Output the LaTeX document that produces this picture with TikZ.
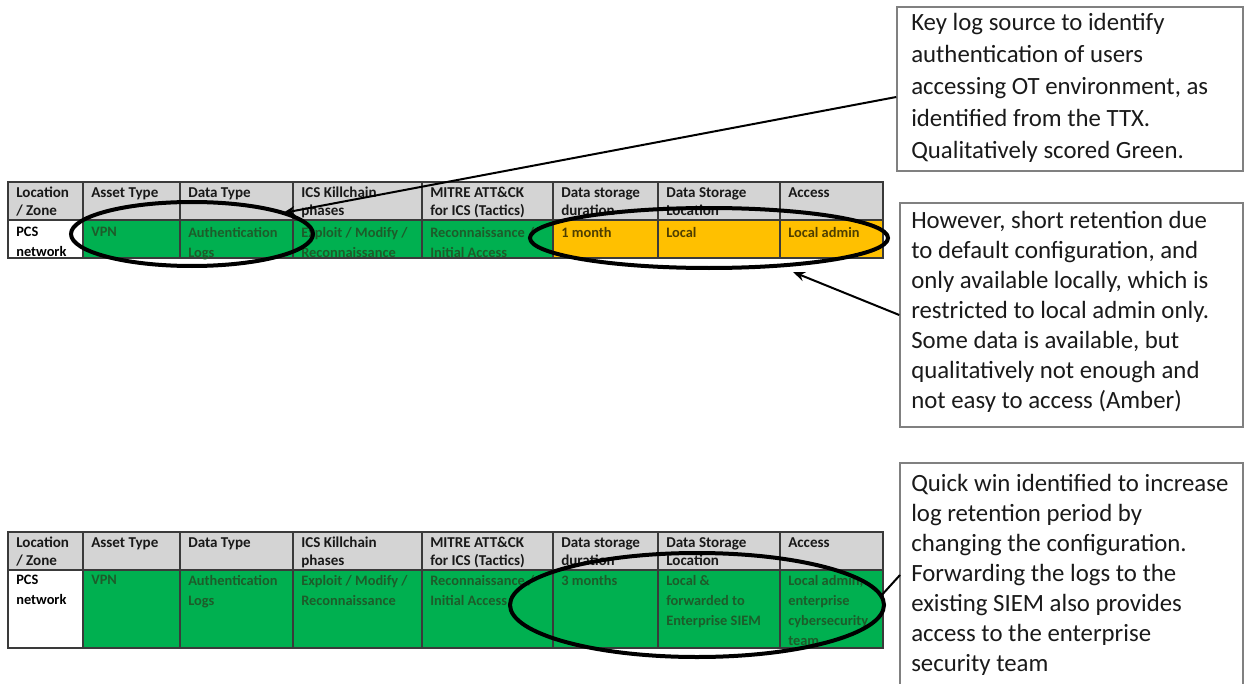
\documentclass[tikz,border=0pt]{standalone}
\usepackage{fontspec}
\setmainfont{Carlito}
\usetikzlibrary{shapes.geometric,arrows.meta}
\definecolor{hdrgray}{HTML}{D4D4D4}
\definecolor{okgreen}{HTML}{00B050}
\definecolor{amber}{HTML}{FFC000}
\definecolor{gtext}{HTML}{1D5C2A}
\definecolor{atext}{HTML}{4E3E00}
\definecolor{gridc}{HTML}{3A3A3A}
\definecolor{boxgray}{HTML}{808080}
\definecolor{calltext}{HTML}{1A1A1A}
\tikzset{
  gridline/.style={draw=gridc, line width=1.1pt},
  hdrtext/.style={anchor=north west, inner sep=0pt, align=left, text=black!90,
    font=\fontsize{11.3}{13.5}\selectfont\bfseries},
  datatext/.style={anchor=north west, inner sep=0pt, align=left,
    font=\fontsize{10.8}{15}\selectfont\bfseries},
  callout/.style={draw=boxgray, line width=1.1pt, rectangle, inner sep=0pt, fill=white},
  calltxt/.style={anchor=north west, inner sep=0pt, align=left, text=calltext},
  ring/.style={ellipse, draw=black, line width=3pt, inner sep=0pt},
  pointer/.style={draw=black, line width=1.5pt, -{Stealth[length=9pt,width=7pt]}},
  plainline/.style={draw=black, line width=1.5pt},
}
\begin{document}
\begin{tikzpicture}[x=0.75pt,y=-0.75pt]
\useasboundingbox (0,0) rectangle (1244,684);
\fill[white] (0,0) rectangle (1244,684);

% ---------- top table ----------
\fill[hdrgray] (8,182) rectangle (883,220);
\fill[white] (8,220) rectangle (83,258);
\fill[okgreen] (83,220) rectangle (553,258);
\fill[amber] (553,220) rectangle (883,258);
\draw[gridline] (8,182) rectangle (883,258);
\draw[gridline] (8,220) -- (883,220);
\foreach \cx in {83,180,293,422,553,658,780} \draw[gridline] (\cx,182) -- (\cx,258);

\node[hdrtext] (tha) at (16,187) {Location\\/ Zone};
\node[hdrtext] (thb) at (91,187) {Asset Type};
\node[hdrtext] (thc) at (188,187) {Data Type};
\node[hdrtext] (thd) at (301,187) {ICS Killchain\\phases};
\node[hdrtext] (the) at (430,187) {MITRE ATT\&CK\\for ICS (Tactics)};
\node[hdrtext] (thf) at (561,187) {Data storage\\duration};
\node[hdrtext] (thg) at (666,187) {Data Storage\\Location};
\node[hdrtext] (thh) at (788,187) {Access};

\node[datatext, text=black] (tda) at (16,227) {PCS\\network};
\node[datatext, text=gtext] (tdb) at (91,227) {VPN};
\node[datatext, text=gtext] (tdc) at (188,227) {Authentication\\Logs};
\node[datatext, text=gtext] (tdd) at (301,227) {Exploit / Modify /\\Reconnaissance};
\node[datatext, text=gtext] (tde) at (430,227) {Reconnaissance /\\Initial Access};
\node[datatext, text=atext] (tdf) at (561,227) {1 month};
\node[datatext, text=atext] (tdg) at (666,227) {Local};
\node[datatext, text=atext] (tdh) at (788,227) {Local admin};

% ---------- bottom table ----------
\fill[hdrgray] (8,532) rectangle (883,570);
\fill[white] (8,570) rectangle (83,648);
\fill[okgreen] (83,570) rectangle (883,648);
\draw[gridline] (8,532) rectangle (883,648);
\draw[gridline] (8,570) -- (883,570);
\foreach \cx in {83,180,293,422,553,658,780} \draw[gridline] (\cx,532) -- (\cx,648);

\node[hdrtext] (bha) at (16,537) {Location\\/ Zone};
\node[hdrtext] (bhb) at (91,537) {Asset Type};
\node[hdrtext] (bhc) at (188,537) {Data Type};
\node[hdrtext] (bhd) at (301,537) {ICS Killchain\\phases};
\node[hdrtext] (bhe) at (430,537) {MITRE ATT\&CK\\for ICS (Tactics)};
\node[hdrtext] (bhf) at (561,537) {Data storage\\duration};
\node[hdrtext] (bhg) at (666,537) {Data Storage\\Location};
\node[hdrtext] (bhh) at (788,537) {Access};

\node[datatext, text=black] (bda) at (16,575) {PCS\\network};
\node[datatext, text=gtext] (bdb) at (91,575) {VPN};
\node[datatext, text=gtext] (bdc) at (188,575) {Authentication\\Logs};
\node[datatext, text=gtext] (bdd) at (301,575) {Exploit / Modify /\\Reconnaissance};
\node[datatext, text=gtext] (bde) at (430,575) {Reconnaissance /\\Initial Access};
\node[datatext, text=gtext] (bdf) at (561,575) {3 months};
\node[datatext, text=gtext] (bdg) at (666,575) {Local \&\\forwarded to\\Enterprise SIEM};
\node[datatext, text=gtext] (bdh) at (788,575) {Local admin,\\enterprise\\cybersecurity\\team};

% ---------- callout boxes ----------
\node[callout, minimum width=259.5pt, minimum height=123pt] (box1) at (1070,89) {};
\node[callout, minimum width=257.25pt, minimum height=168pt] (box2) at (1071.5,315) {};
\node[callout, minimum width=257.25pt, minimum height=177.75pt] (box3) at (1071.5,581.5) {};

\node[calltxt, font=\fontsize{18.6}{24}\selectfont] (txt1) at (911,13)
  {Key log source to identify\\authentication of users\\accessing OT environment, as\\identified from the TTX.\\Qualitatively scored Green.};
\node[calltxt, font=\fontsize{18.6}{22.5}\selectfont] (txt2) at (911,211)
  {However, short retention due\\to default configuration, and\\only available locally, which is\\restricted to local admin only.\\Some data is available, but\\qualitatively not enough and\\not easy to access (Amber)};
\node[calltxt, font=\fontsize{18.6}{22.5}\selectfont] (txt3) at (911,474)
  {Quick win identified to increase\\log retention period by\\changing the configuration.\\Forwarding the logs to the\\existing SIEM also provides\\access to the enterprise\\security team};

% ---------- highlight rings ----------
\node[ring, minimum width=181.5pt, minimum height=48pt] (ring1) at (192,234) {};
\node[ring, minimum width=268.5pt, minimum height=45pt] (ring2) at (709,238) {};
\node[ring, minimum width=280.5pt, minimum height=78pt] (ring3) at (697,605) {};

% ---------- connectors ----------
\coordinate (p1) at (283,213);
\coordinate (p2) at (793,272);
\coordinate (s3) at (900,575);
\coordinate (p3) at (880,597);
\draw[pointer] ([yshift=-6pt]box1.west) -- (p1);
\draw[pointer] (box2.west) -- (p2);
\draw[plainline] (s3) -- (p3);
\end{tikzpicture}
\end{document}
